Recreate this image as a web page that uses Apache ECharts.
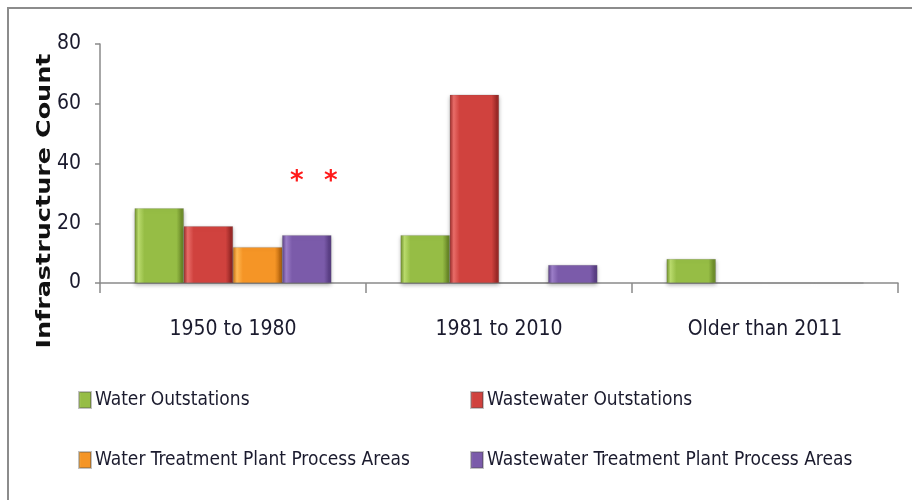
<!DOCTYPE html>
<html>
<head>
<meta charset="utf-8">
<script src="https://cdn.jsdelivr.net/npm/echarts@6/dist/echarts.min.js"></script>
<style>
  html, body { margin: 0; padding: 0; background: #fff; }
  #chart { width: 912px; height: 500px; }
</style>
</head>
<body>
<div id="chart"></div>
<script>
// Infrastructure age bands
const categories = ['1950 to 1980', '1981 to 2010', 'Older than 2011'];

// Counts per asset group
const waterOutstations = [25, 16, 8];
const wastewaterOutstations = [19, 63, 0];
const waterTreatmentAreas = [12, 0, 0];
const wastewaterTreatmentAreas = [16, 6, 0];

const yTicks = { min: 0, max: 80, interval: 20 };

const seriesNames = [
  'Water Outstations',
  'Wastewater Outstations',
  'Water Treatment Plant Process Areas',
  'Wastewater Treatment Plant Process Areas'
];

const textFont = '"Liberation Sans Narrow", "DejaVu Sans Condensed", "Open Sans", sans-serif';

// Bevelled fill: light rim at the edges, solid body
function bevel(light, mid, dark) {
  return new echarts.graphic.LinearGradient(0, 0, 1, 0, [
    { offset: 0, color: dark },
    { offset: 0.08, color: light },
    { offset: 0.2, color: mid },
    { offset: 0.85, color: mid },
    { offset: 0.95, color: dark },
    { offset: 1, color: dark }
  ]);
}

const palette = [
  bevel('#b9da6c', '#96bd45', '#6f8f2c'),
  bevel('#e86c68', '#d0423e', '#9c2a28'),
  bevel('#ffb852', '#f59526', '#c46f12'),
  bevel('#9c7ec8', '#7b5baa', '#5a3f84')
];
const legendColors = ['#8db43e', '#c9403d', '#f1912a', '#7c5ca9'];

function barSeries(name, data, idx) {
  return {
    name: name,
    type: 'bar',
    data: data,
    barGap: '0%',
    barCategoryGap: '26%',
    itemStyle: {
      color: palette[idx],
      borderColor: 'rgba(80,80,80,0.35)',
      borderWidth: 0.5,
      shadowColor: 'rgba(0,0,0,0.3)',
      shadowBlur: 4,
      shadowOffsetY: 2
    },
    emphasis: { disabled: true }
  };
}

const legendText = { fontFamily: textFont, fontSize: 19, lineHeight: 24, color: '#1b1b2e', padding: [0, 0, 0, -1] };

const chart = echarts.init(document.getElementById('chart'), null, { renderer: 'canvas' });

chart.setOption({
  animation: false,
  backgroundColor: '#ffffff',
  color: legendColors,
  grid: { left: 100, right: 14, top: 44, bottom: 217 },
  legend: [
    {
      orient: 'vertical',
      left: 78,
      top: 388,
      padding: 0,
      itemGap: 36,
      itemWidth: 12,
      itemHeight: 16,
      icon: 'rect',
      data: [seriesNames[0], seriesNames[2]],
      textStyle: legendText
    },
    {
      orient: 'vertical',
      left: 470,
      top: 388,
      padding: 0,
      itemGap: 36,
      itemWidth: 12,
      itemHeight: 16,
      icon: 'rect',
      data: [seriesNames[1], seriesNames[3]],
      textStyle: legendText
    }
  ],
  xAxis: {
    type: 'category',
    data: categories,
    axisLine: { lineStyle: { color: '#8a8a8a', width: 1.5 } },
    axisTick: { show: true, alignWithLabel: false, length: 10, lineStyle: { color: '#8a8a8a', width: 1.5 } },
    axisLabel: { fontFamily: textFont, fontSize: 21, color: '#1b1b2e', margin: 36 }
  },
  yAxis: {
    type: 'value',
    min: yTicks.min,
    max: yTicks.max,
    interval: yTicks.interval,
    axisLine: { show: true, lineStyle: { color: '#8a8a8a', width: 1.5 } },
    axisTick: { show: true, length: 5, lineStyle: { color: '#8a8a8a', width: 1.5 } },
    splitLine: { show: false },
    axisLabel: { fontFamily: textFont, fontSize: 21, color: '#1b1b2e', margin: 19 }
  },
  graphic: [
    {
      type: 'rect',
      shape: { x: 8, y: 8, width: 906, height: 500 },
      style: { fill: 'none', stroke: '#8c8c8c', lineWidth: 2 },
      z: 0, silent: true
    },
    {
      // vertical axis title, stretched along its length
      type: 'text',
      x: 45, y: 201,
      rotation: Math.PI / 2,
      scaleX: 1.34,
      style: {
        text: 'Infrastructure Count',
        fill: '#111',
        font: 'bold 19px "DejaVu Sans", Verdana, sans-serif',
        align: 'center',
        verticalAlign: 'middle'
      },
      silent: true
    },
    {
      type: 'text',
      left: 290, top: 169,
      style: { text: '*', fill: '#ff1a1a', font: 'bold 26px "DejaVu Sans", sans-serif' },
      silent: true
    },
    {
      type: 'text',
      left: 324, top: 169,
      style: { text: '*', fill: '#ff1a1a', font: 'bold 26px "DejaVu Sans", sans-serif' },
      silent: true
    }
  ],
  series: [
    barSeries(seriesNames[0], waterOutstations, 0),
    barSeries(seriesNames[1], wastewaterOutstations, 1),
    barSeries(seriesNames[2], waterTreatmentAreas, 2),
    barSeries(seriesNames[3], wastewaterTreatmentAreas, 3)
  ]
});
</script>
</body>
</html>
